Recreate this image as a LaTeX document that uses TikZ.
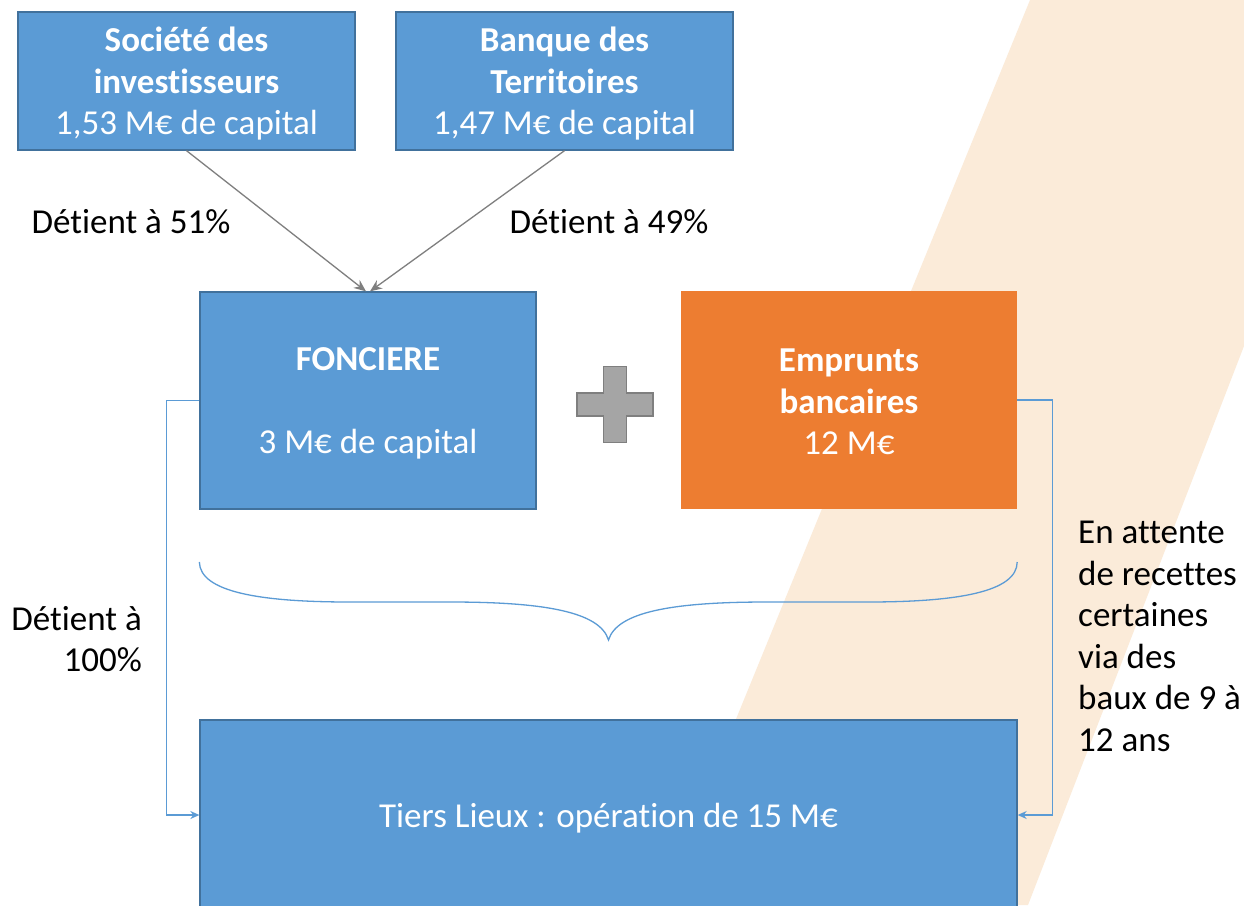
\documentclass[tikz,border=0pt]{standalone}
\usepackage{fontspec}
\setmainfont{Carlito}[Ligatures={NoCommon}]
\usetikzlibrary{arrows.meta}
\definecolor{boxblue}{HTML}{5B9BD5}
\definecolor{edgeblue}{HTML}{41719C}
\definecolor{loanorange}{HTML}{ED7D31}
\definecolor{stripe}{HTML}{FBEBD9}
\definecolor{plusgray}{HTML}{A5A5A5}
\definecolor{plusedge}{HTML}{7F7F7F}
\definecolor{arrowgray}{HTML}{7F7F7F}
\tikzset{
  bluebox/.style={rectangle, fill=boxblue, draw=edgeblue, line width=1.3pt, inner sep=0pt},
  orangebox/.style={rectangle, fill=loanorange, draw=none, inner sep=0pt},
  boxtext/.style={text=white, align=center, inner sep=0pt, font=\fontsize{35}{41.5}\selectfont},
  lbl/.style={text=black, inner sep=0pt, font=\fontsize{35}{41.5}\selectfont},
  holdarrow/.style={draw=arrowgray, line width=1.3pt, -{Stealth[length=12pt,width=10pt]}},
  linkline/.style={draw=boxblue, line width=1.3pt, -{Stealth[length=9pt,width=8pt]}},
  bracestyle/.style={draw=boxblue, line width=1.3pt},
}
\begin{document}
\begin{tikzpicture}[x=1pt,y=-1pt]
\useasboundingbox (0,0) rectangle (1244,905);
\clip (0,0) rectangle (1244,905);
\fill[white] (0,0) rectangle (1244,905);
% background stripe
\fill[stripe] (1030,0) -- (1244,0) -- (1244,346) -- (1028,905) -- (660,905) -- cycle;

% boxes
\node[bluebox, minimum width=337pt, minimum height=138pt] (soc) at (186.5,81) {};
\node[boxtext] (soct) at ([yshift=-3pt]soc.center)
  {\textbf{Société des}\\\textbf{investisseurs}\\1,53 M€ de capital};
\node[bluebox, minimum width=337pt, minimum height=138pt] (bdt) at (564.5,81) {};
\node[boxtext] (bdtt) at ([yshift=-3pt]bdt.center)
  {\textbf{Banque des}\\\textbf{Territoires}\\1,47 M€ de capital};
\node[bluebox, minimum width=336pt, minimum height=217pt] (fon) at (368,400.5) {};
\node[boxtext] (font) at ([yshift=-2.5pt]fon.center)
  {\textbf{FONCIERE}\\~\\3 M€ de capital};
\node[orangebox, minimum width=336pt, minimum height=218pt] (emp) at (849,400) {};
\node[boxtext] (empt) at ([yshift=-2pt]emp.center)
  {\textbf{Emprunts}\\\textbf{bancaires}\\12 M€};
\node[bluebox, minimum width=817pt, minimum height=190pt] (tl) at (608.5,815) {};
\node[boxtext] (tlt) at ([yshift=-3pt]tl.center) {Tiers Lieux : opération de 15 M€};

% plus sign
\filldraw[fill=plusgray, draw=plusedge, line width=1.2pt]
  (603.5,366.5) -- (626.5,366.5) -- (626.5,393) -- (653,393) -- (653,416) -- (626.5,416)
  -- (626.5,442.5) -- (603.5,442.5) -- (603.5,416) -- (577,416) -- (577,393) -- (603.5,393) -- cycle;

% ownership arrows
\draw[holdarrow] (soc.south) -- ([xshift=-2pt]fon.north);
\draw[holdarrow] (bdt.south) -- ([xshift=2pt]fon.north);
\node[lbl] (l51) at (131,222) {Détient à 51\%};
\node[lbl] (l49) at (609,222) {Détient à 49\%};

% side connectors
\draw[linkline] (fon.west) -- ++(-33,0) |- (tl.west);
\draw[linkline] (emp.east) -- ++(35,0) |- (tl.east);
\node[lbl, anchor=east, align=right] (l100) at (142,639) {Détient à\\100\%};
\node[lbl, anchor=north west, align=left] (att) at (1078,521)
  {En attente\\de recettes\\certaines\\via des\\baux de 9 à\\12 ans};

% brace
\draw[bracestyle] (fon.south west |- 0,562) .. controls (200,592) and (260,602) .. (350,602)
  -- (450,602) .. controls (545,602) and (600,612) .. (608.5,640)
  .. controls (617,612) and (672,602) .. (767,602) -- (867,602)
  .. controls (957,602) and (1017,592) .. (emp.south east |- 0,562);
\end{tikzpicture}
\end{document}
